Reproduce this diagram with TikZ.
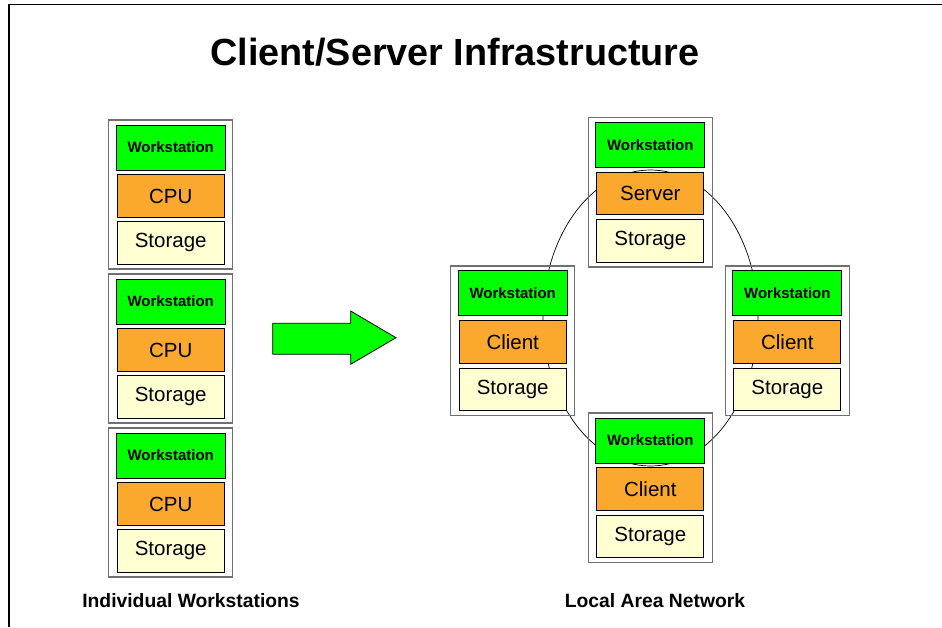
\documentclass[tikz,border=0pt]{standalone}
\usepackage{fontspec}
\setmainfont{Liberation Sans}
\usetikzlibrary{positioning, fit}

\definecolor{WsGreen}{HTML}{00FF00}
\definecolor{UnitOrange}{HTML}{FAA82E}
\definecolor{DiskYellow}{HTML}{FFFFD2}
\definecolor{FrameGrey}{HTML}{707070}

\begin{document}
\begin{tikzpicture}[x=1pt, y=-1pt,
    node distance=4pt,
    wsbox/.style={draw, fill=WsGreen, line width=0.8pt, minimum width=109pt,
      minimum height=45pt, inner sep=0pt, font=\fontsize{15}{17}\selectfont\bfseries},
    unit/.style={draw, fill=UnitOrange, line width=0.8pt, minimum width=107pt,
      minimum height=42.5pt, inner sep=0pt, font=\fontsize{20.5}{23}\selectfont},
    disk/.style={unit, fill=DiskYellow},
    stack/.style={draw=FrameGrey, line width=1.3pt, inner xsep=7pt, inner ysep=4.5pt},
    caption/.style={anchor=base, font=\fontsize{19.3}{22}\selectfont\bfseries},
    bigarrow/.style={draw, fill=WsGreen, line width=0.8pt, line join=miter}
  ]
  \useasboundingbox (0,0) rectangle (942,627);
  % page frame
  \draw[line width=1.3pt] (9,627) -- (9,4.5) -- (942,4.5);

  \node[anchor=base, font=\fontsize{37.8}{40}\selectfont\bfseries] (title) at (455,65)
    {Client/Server Infrastructure};

  % ring of the LAN, behind the machines
  \draw[line width=0.7pt] (650.5,318) ellipse [x radius=107.5, y radius=148];

  % stand-alone machines
  \node[wsbox] (ws1) at (170.7,147.5) {Workstation};
  \node[unit, below=of ws1] (cpu1) {CPU};
  \node[disk, below=3.5pt of cpu1] (st1) {Storage};
  \node[stack, fit=(ws1)(st1)] (pc1) {};

  \node[wsbox] (ws2) at (170.7,301.5) {Workstation};
  \node[unit, below=of ws2] (cpu2) {CPU};
  \node[disk, below=3.5pt of cpu2] (st2) {Storage};
  \node[stack, fit=(ws2)(st2)] (pc2) {};

  \node[wsbox] (ws3) at (170.7,455.5) {Workstation};
  \node[unit, below=of ws3] (cpu3) {CPU};
  \node[disk, below=3.5pt of cpu3] (st3) {Storage};
  \node[stack, fit=(ws3)(st3)] (pc3) {};

  \draw[bigarrow] (272.7,323.3) -- (350.7,323.3) -- (350.7,311) -- (396,337.7)
    -- (350.7,364.3) -- (350.7,354.3) -- (272.7,354.3) -- cycle;

  % machines on the network
  \node[wsbox] (wsS) at (650.3,145) {Workstation};
  \node[unit, below=of wsS] (srv) {Server};
  \node[disk, below=of srv] (stS) {Storage};
  \node[stack, fit=(wsS)(stS)] (server) {};

  \node[wsbox] (wsL) at (512.7,293.3) {Workstation};
  \node[unit, below=of wsL] (cliL) {Client};
  \node[disk, below=of cliL] (stL) {Storage};
  \node[stack, fit=(wsL)(stL)] (left) {};

  \node[wsbox] (wsR) at (787.3,293.3) {Workstation};
  \node[unit, below=of wsR] (cliR) {Client};
  \node[disk, below=of cliR] (stR) {Storage};
  \node[stack, fit=(wsR)(stR)] (right) {};

  \node[wsbox] (wsB) at (650.3,440.5) {Workstation};
  \node[unit, below=of wsB] (cliB) {Client};
  \node[disk, below=of cliB] (stB) {Storage};
  \node[stack, fit=(wsB)(stB)] (bottom) {};

  \node[caption] (solo) at (191,607) {Individual Workstations};
  \node[caption] (lan) at (655,607) {Local Area Network};
\end{tikzpicture}
\end{document}
